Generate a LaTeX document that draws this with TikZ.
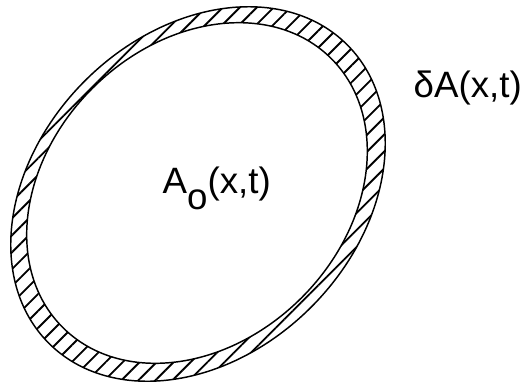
\documentclass[tikz,border=0pt]{standalone}
\usepackage{fontspec}
\setmainfont{Liberation Sans}
\usetikzlibrary{patterns.meta}

\tikzset{every picture/.style={line width=1.1pt}}
\tikzset{hatch/.style={pattern={Lines[angle=45,distance=9pt,line width=1.4pt]},pattern color=black}}
\tikzset{label/.style={inner sep=0pt,font=\fontsize{27.5}{31}\selectfont}}

\begin{document}
\begin{tikzpicture}[x=0.75pt,y=0.75pt,yscale=-1,xscale=1]
\useasboundingbox (0,0) rectangle (522,383);
\coordinate (co) at (198,194);
\coordinate (ci) at (197,193);
%Shape: Ring between the two ellipses
\fill [hatch,even odd rule] (co) ellipse [x radius=211, y radius=160, rotate=-45] (ci) ellipse [x radius=190, y radius=148, rotate=-45] ;
%Shape: Ellipse [outer]
\draw   (co) ellipse [x radius=211, y radius=160, rotate=-45] ;
%Shape: Ellipse [inner]
\draw   (ci) ellipse [x radius=190, y radius=148, rotate=-45] ;
% Text Node
\draw (162,193) node [anchor=base west][label] (ao) {A\raisebox{-0.45em}{o}(x,t)};
% Text Node
\draw (413,97) node [anchor=base west][label] (da) {δA(x,t)};
\end{tikzpicture}
\end{document}
